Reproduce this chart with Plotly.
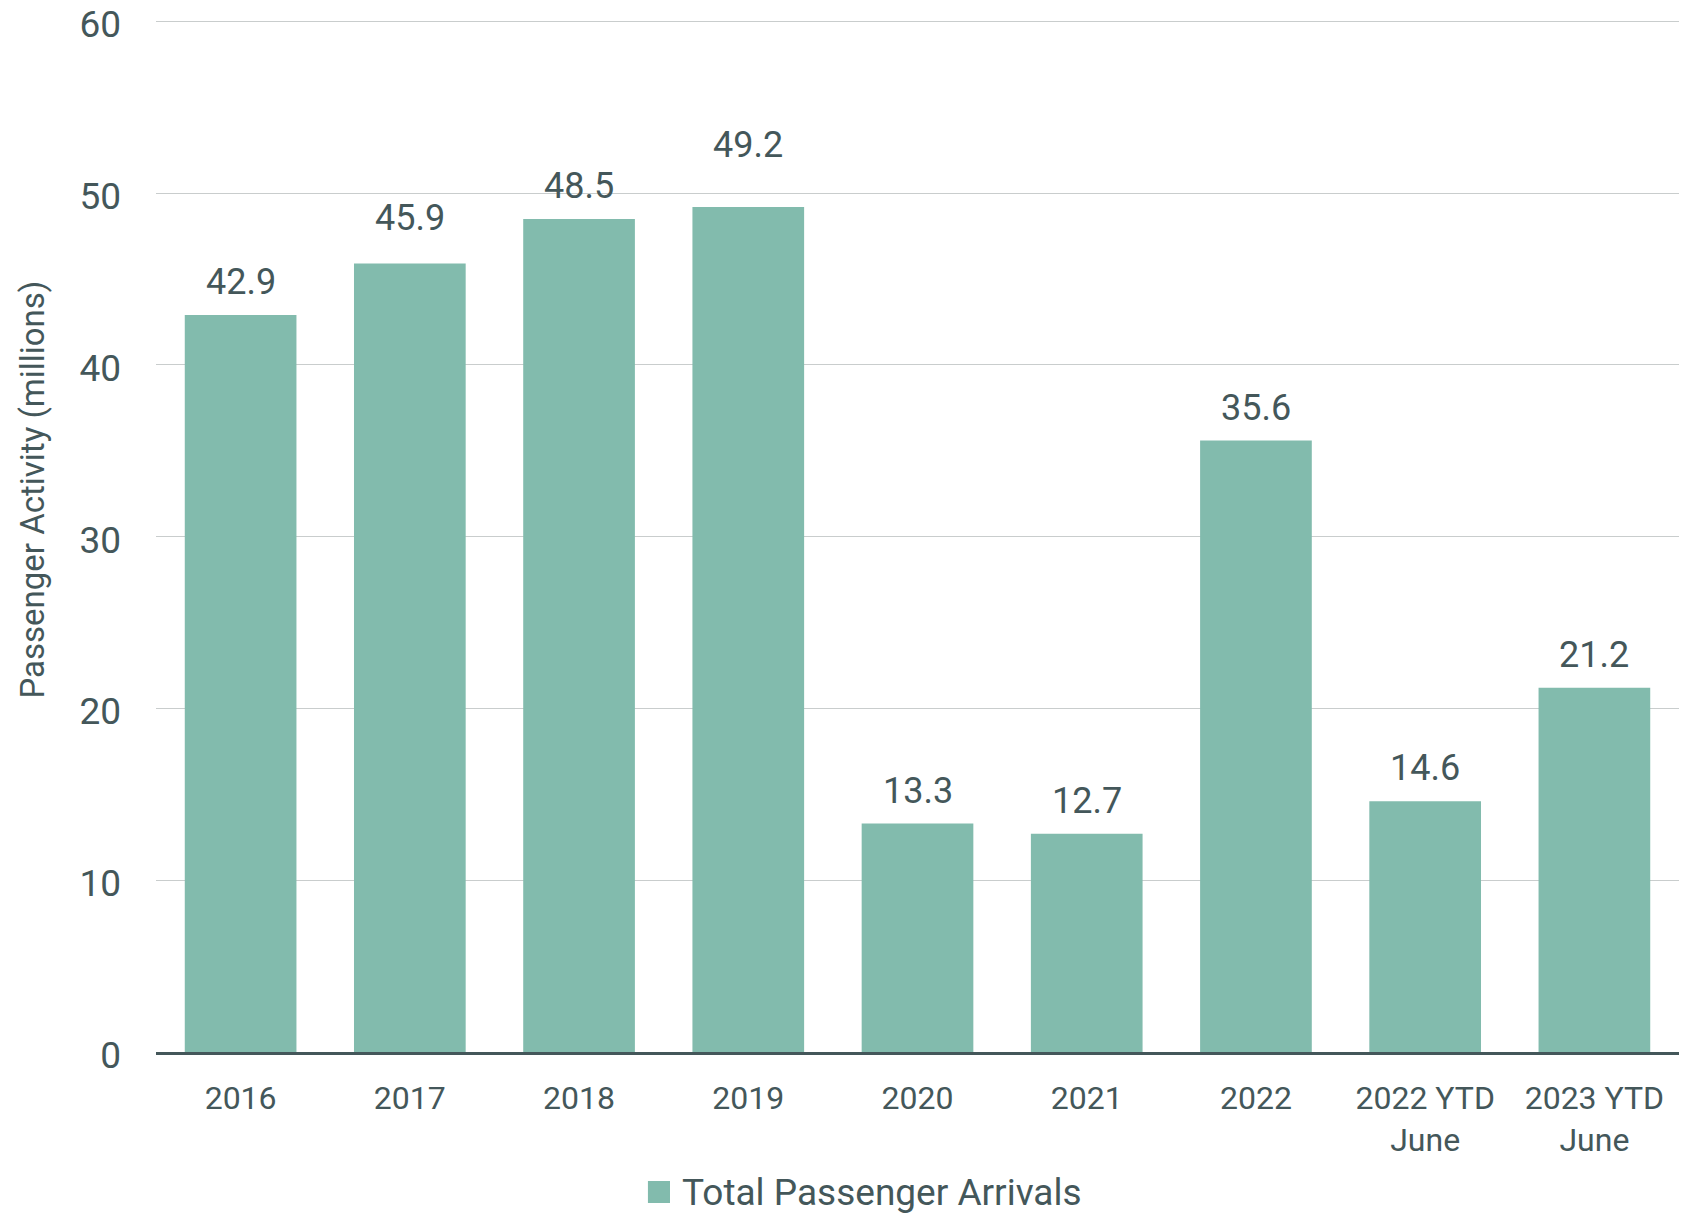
import plotly.graph_objects as go

categories = ["2016", "2017", "2018", "2019", "2020", "2021", "2022", "2022 YTD<br>June", "2023 YTD<br>June"]
values = [42.9, 45.9, 48.5, 49.2, 13.3, 12.7, 35.6, 14.6, 21.2]
labels = ["42.9", "45.9", "48.5", "49.2", "13.3", "12.7", "35.6", "14.6", "21.2"]
y_ticks = [0, 10, 20, 30, 40, 50, 60]
series_name = "Total Passenger Arrivals"
y_title = "Passenger Activity (millions)"

TEXT = "#44575a"
BAR = "#82bbad"
FONT = "Roboto"

# extra vertical nudges (px) of some value labels, as in the reference
label_nudge = {1: 13, 3: 29}

fig = go.Figure()
fig.add_trace(go.Bar(
    x=categories, y=values, name=series_name,
    marker=dict(color=BAR, line=dict(width=0)),
    showlegend=False,
))

for i, (v, t) in enumerate(zip(values, labels)):
    fig.add_annotation(x=i, y=v, xref="x", yref="y", text=t, showarrow=False,
                       yanchor="bottom", yshift=10 + label_nudge.get(i, 0),
                       font=dict(family=FONT, size=36, color=TEXT))

# y-axis title (placed slightly above centre, as in the reference)
fig.add_annotation(x=0, y=0.545, xref="paper", yref="paper", text=y_title,
                   showarrow=False, textangle=-90, xanchor="center", yanchor="middle",
                   xshift=-123, font=dict(family=FONT, size=33, color=TEXT))

# legend: swatch + label below the axis
fig.add_shape(type="rect", xref="paper", yref="paper",
              x0=0.3230, x1=0.3375, y0=-0.1463, y1=-0.125,
              fillcolor=BAR, line=dict(width=0))
fig.add_annotation(x=0.3441, y=-0.1366, xref="paper", yref="paper", text=series_name,
                   showarrow=False, xanchor="left", yanchor="middle",
                   font=dict(family=FONT, size=37, color=TEXT))

fig.update_layout(
    width=1677, height=1207,
    margin=dict(l=148, r=6, t=12, b=163),
    plot_bgcolor="white", paper_bgcolor="white",
    bargap=0.34,
    font=dict(family=FONT, color=TEXT),
    showlegend=False,
    xaxis=dict(type="category", tickfont=dict(family=FONT, size=32, color=TEXT), ticks="",
               ticklabelstandoff=16, showgrid=False, showline=True, linecolor=TEXT, linewidth=2.5,
               automargin=False),
    yaxis=dict(range=[0, 60.08], tickvals=y_ticks, ticks="", ticklabelstandoff=34,
               ticklabelshift=3,
               ticklabeloverflow="allow", automargin=False,
               tickfont=dict(family=FONT, size=37, color=TEXT),
               showgrid=True, gridcolor="#c9cdcd", gridwidth=1.2, zeroline=False),
)

fig.write_html("out.html")
